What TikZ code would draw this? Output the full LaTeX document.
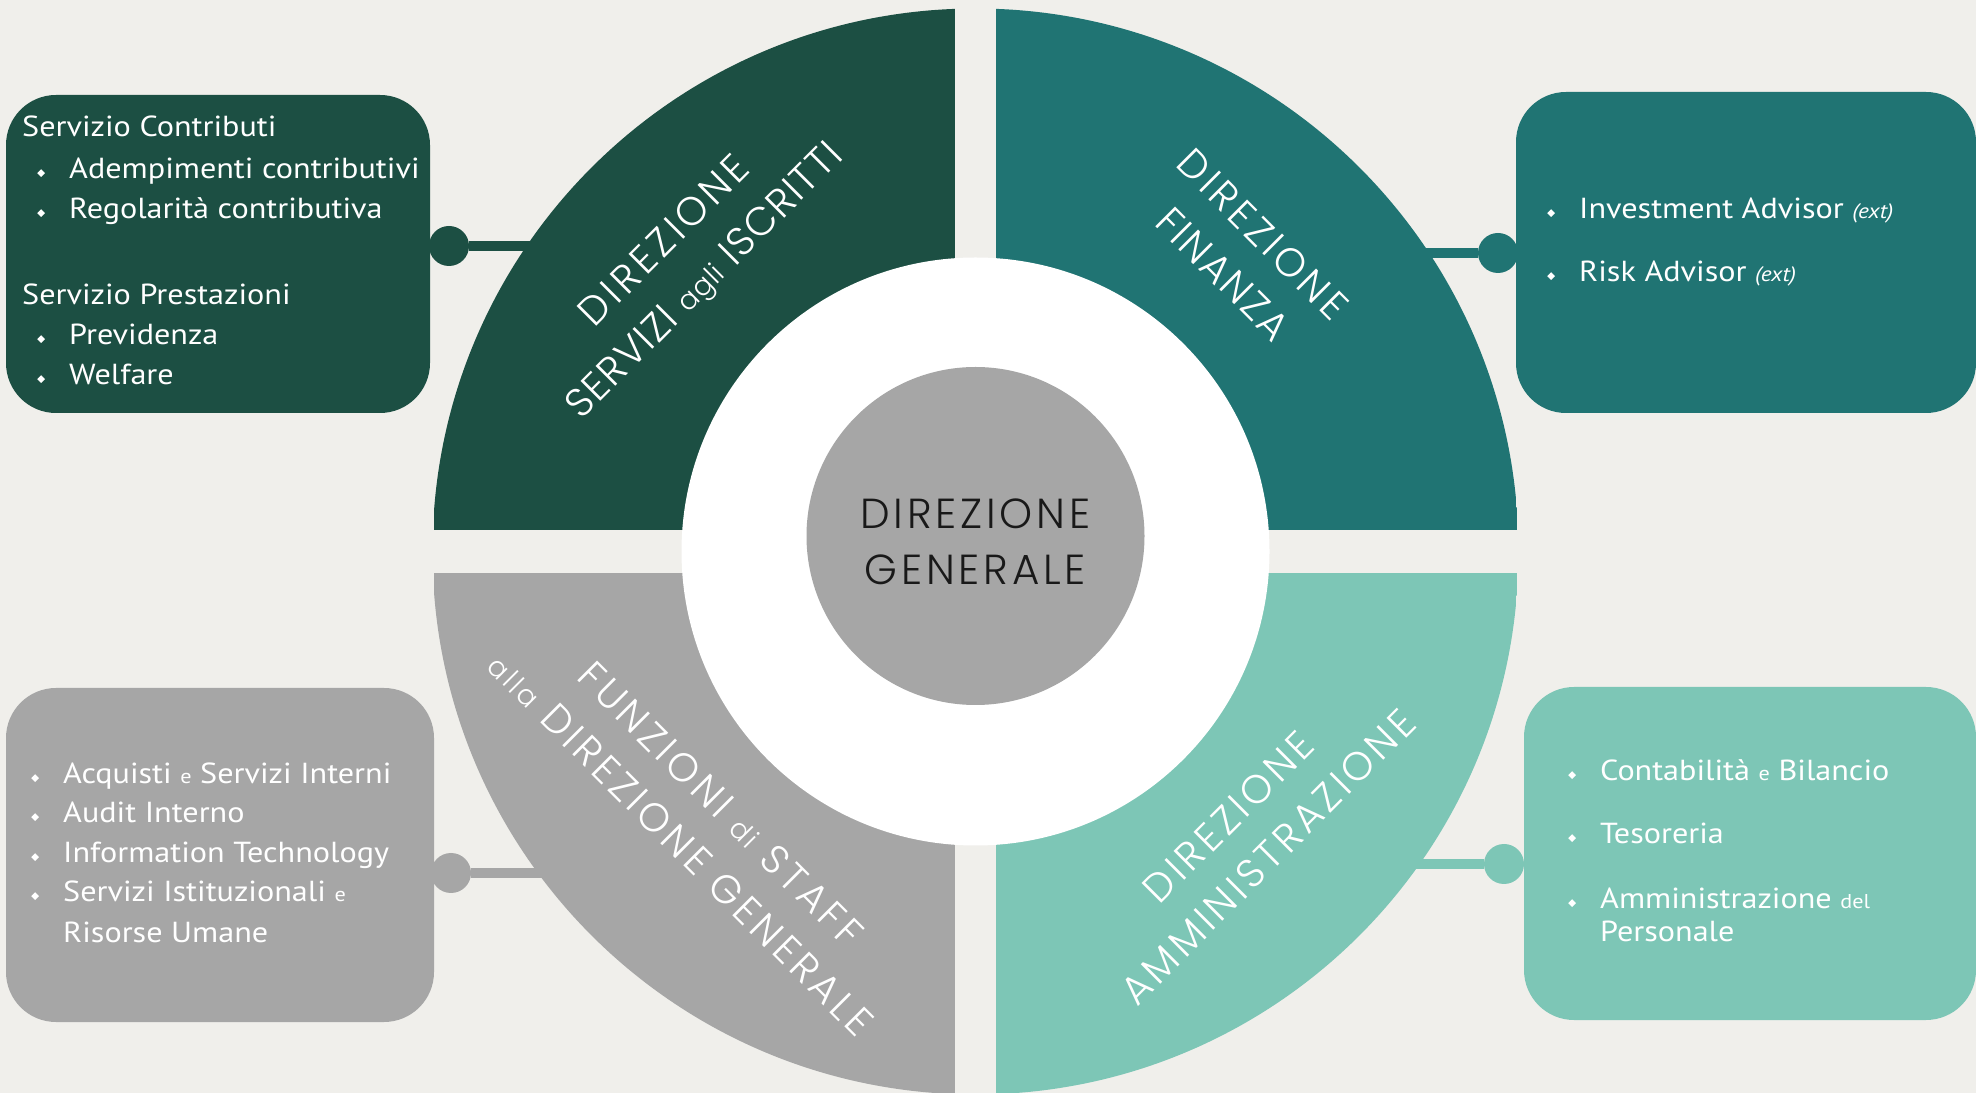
\documentclass[tikz,border=0pt]{standalone}
\usepackage{fontspec}
\newfontfamily\geofont{Poppins Light}[LetterSpace=10]
\newfontfamily\listfont{PT Sans}[FakeStretch=1.11]
\usetikzlibrary{positioning}

\definecolor{bgcol}{HTML}{F0EFEB}
\definecolor{colIscritti}{HTML}{1C4F43}
\definecolor{colFinanza}{HTML}{207473}
\definecolor{colStaff}{HTML}{A6A6A6}
\definecolor{colAmm}{HTML}{7DC6B6}

\newcommand{\bul}{\makebox[32pt][l]{\raisebox{2pt}{\rotatebox{45}{\rule{5.5pt}{5.5pt}}}}}
\newcommand{\smallword}[1]{{\fontsize{20}{24}\selectfont #1}}
\newcommand{\lowword}[1]{{\fontsize{28}{28}\selectfont #1}}

\begin{document}
\begin{tikzpicture}[x=1pt,y=1pt]
\tikzset{
  panel/.style={rounded corners=50pt, inner sep=0pt},
  dot/.style={circle, inner sep=0pt, minimum size=40pt},
  link/.style={line width=10pt},
  entry/.style={anchor=base west, inner sep=0pt, text=white, font=\listfont\fontsize{29}{35}\selectfont},
  quadlabel/.style={text=white, align=center, inner sep=0pt, font=\geofont\fontsize{40}{56}\selectfont}
}
\useasboundingbox (0,0) rectangle (1976,1093);
\fill[bgcol] (0,0) rectangle (1976,1093);

% connectors (their inner ends are hidden under the quadrants)
\node[dot, fill=colIscritti] (dIscritti) at (449,847) {};
\node[dot, fill=colFinanza]  (dFinanza)  at (1498,840) {};
\node[dot, fill=colStaff]    (dStaff)    at (451,220) {};
\node[dot, fill=colAmm]      (dAmm)      at (1504,229) {};
\coordinate (eIscritti) at (600,847);
\coordinate (eFinanza)  at (1380,840);
\coordinate (eStaff)    at (620,220);
\coordinate (eAmm)      at (1350,229);
\draw[link, draw=colIscritti] (dIscritti) -- (eIscritti);
\draw[link, draw=colFinanza]  (dFinanza) -- (eFinanza);
\draw[link, draw=colStaff]    (dStaff) -- (eStaff);
\draw[link, draw=colAmm]      (dAmm) -- (eAmm);

% quadrants
\begin{scope}
\clip (975.5,541.5) circle (543);
\fill[colIscritti] (434,563) rectangle (955,1093);
\fill[colFinanza]  (996,563) rectangle (1517,1093);
\fill[colStaff]    (434,0) rectangle (955,520);
\fill[colAmm]      (996,0) rectangle (1517,520);
\end{scope}

\node[circle, fill=white, inner sep=0pt, minimum size=588pt] (ring) at (975.5,541.5) {};
\node[circle, fill=colStaff, inner sep=0pt, minimum size=338pt] (core) at (975.5,557) {};
\node[align=center, inner sep=0pt, text=black!90, font=\geofont\addfontfeature{LetterSpace=9}\fontsize{42}{56}\selectfont] (dg) at (975.5,551) {DIREZIONE\\GENERALE};

\node[quadlabel, rotate=45]  (lIscritti) at (686,831) {DIREZIONE\\{\addfontfeature{LetterSpace=3}SERVIZI \lowword{agli} ISCRITTI}};
\node[quadlabel, rotate=-45] (lFinanza)  at (1243,839) {DIREZIONE\\{\addfontfeature{LetterSpace=5}FINANZA}};
\node[quadlabel, rotate=-45] (lStaff)    at (701,269) {FUNZIONI \lowword{di} STAFF\\\lowword{alla} DIREZIONE GENERALE};
\node[quadlabel, rotate=45]  (lAmm)      at (1248,256) {DIREZIONE\\AMMINISTRAZIONE};

% side boxes
\node[panel, fill=colIscritti, minimum width=424pt, minimum height=318pt] (bIscritti) at (218,839) {};
\node[panel, fill=colFinanza,  minimum width=460pt, minimum height=321pt] (bFinanza)  at (1746,840.5) {};
\node[panel, fill=colStaff,    minimum width=428pt, minimum height=334pt] (bStaff)    at (220,238) {};
\node[panel, fill=colAmm,      minimum width=452pt, minimum height=333pt] (bAmm)      at (1750,239.5) {};

\node[entry] (c0) at (22,956) {Servizio Contributi};
\node[entry] (c1) at (37,914) {\bul Adempimenti contributivi};
\node[entry] (c2) at (37,874) {\bul Regolarità contributiva};
\node[entry] (p0) at (22,788) {Servizio Prestazioni};
\node[entry] (p1) at (37,748) {\bul Previdenza};
\node[entry] (p2) at (37,708) {\bul Welfare};

\node[entry] (f1) at (1547,874) {\bul Investment Advisor {\itshape\fontsize{21}{25}\selectfont (ext)}};
\node[entry] (f2) at (1547,811) {\bul Risk Advisor {\itshape\fontsize{21}{25}\selectfont (ext)}};

\node[entry] (s1) at (31,309) {\bul Acquisti \smallword{e} Servizi Interni};
\node[entry] (s2) at (31,270) {\bul Audit Interno};
\node[entry] (s3) at (31,230) {\bul Information Technology};
\node[entry] (s4) at (31,191) {\bul Servizi Istituzionali \smallword{e}};
\node[entry] (s5) at (63,151) {Risorse Umane};

\node[entry] (a1) at (1568,312) {\bul Contabilità \smallword{e} Bilancio};
\node[entry] (a2) at (1568,249) {\bul Tesoreria};
\node[entry] (a3) at (1568,184) {\bul Amministrazione \smallword{del}};
\node[entry] (a4) at (1600,152) {Personale};
\end{tikzpicture}
\end{document}
